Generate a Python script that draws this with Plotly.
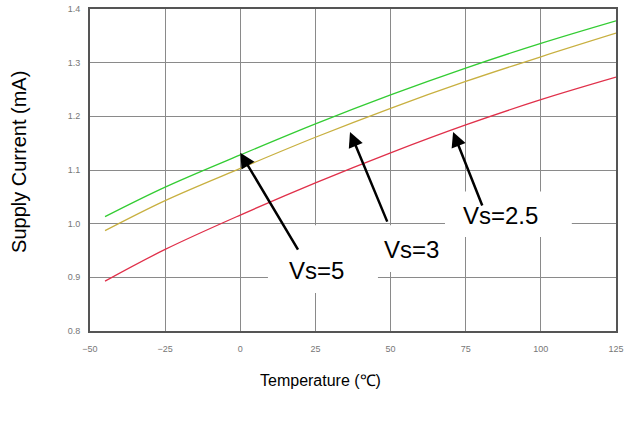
import plotly.graph_objects as go

temps = [-45, -25, 0, 25, 50, 75, 100, 125]
i_vs5 = [1.013, 1.068, 1.128, 1.186, 1.240, 1.290, 1.336, 1.378]
i_vs3 = [0.987, 1.043, 1.103, 1.161, 1.215, 1.265, 1.311, 1.355]
i_vs25 = [0.893, 0.952, 1.016, 1.076, 1.132, 1.184, 1.231, 1.273]

labels = ["Vs=5", "Vs=3", "Vs=2.5"]
label_x = [25.2, 57.1, 86.7]
label_y = [0.912, 0.951, 1.016]
arrow_head_x = [0.0, 36.5, 70.8]
arrow_head_y = [1.132, 1.171, 1.171]
arrow_tail_x = [19.5, 49.1, 80.7]
arrow_tail_y = [0.949, 1.001, 1.031]
# white boxes behind labels (x0, x1, y0, y1)
box_x0 = [9.2, 41.0, 68.1]
box_x1 = [45.8, 69.0, 110.3]
box_y0 = [0.871, 0.910, 0.975]
box_y1 = [0.997, 0.997, 1.060]

fig = go.Figure()
fig.add_trace(go.Scatter(x=temps, y=i_vs5, mode="lines", line=dict(color="#33cc33", width=1.3, shape="spline"), name="Vs=5"))
fig.add_trace(go.Scatter(x=temps, y=i_vs3, mode="lines", line=dict(color="#c8b040", width=1.3, shape="spline"), name="Vs=3"))
fig.add_trace(go.Scatter(x=temps, y=i_vs25, mode="lines", line=dict(color="#e0304a", width=1.3, shape="spline"), name="Vs=2.5"))

for x0, x1, y0, y1 in zip(box_x0, box_x1, box_y0, box_y1):
    fig.add_shape(type="rect", x0=x0, x1=x1, y0=y0, y1=y1, xref="x", yref="y",
                  fillcolor="white", line=dict(width=0), layer="above")

for t, lx, ly in zip(labels, label_x, label_y):
    fig.add_annotation(x=lx, y=ly, xref="x", yref="y", text=t, showarrow=False,
                       font=dict(family="Liberation Sans, Arial", size=24, color="black"))
for hx, hy, tx, ty in zip(arrow_head_x, arrow_head_y, arrow_tail_x, arrow_tail_y):
    fig.add_annotation(x=hx, y=hy, ax=tx, ay=ty, xref="x", yref="y", axref="x", ayref="y",
                       text="", showarrow=True, arrowhead=2, arrowsize=1.2, arrowwidth=2.5,
                       arrowcolor="black")

fig.add_annotation(x=0.439, y=-0.155, xref="paper", yref="paper", xanchor="center", yanchor="middle",
                   text="Temperature (℃)", showarrow=False,
                   font=dict(family="Liberation Sans, Arial", size=16, color="black"))
fig.add_annotation(x=-0.135, y=0.525, xref="paper", yref="paper", xanchor="center", yanchor="middle",
                   text="Supply Current (mA)", textangle=-90, showarrow=False,
                   font=dict(family="Liberation Sans, Arial", size=20, color="black"))

fig.update_layout(
    width=626, height=423,
    margin=dict(l=90, r=10, t=9, b=92),
    paper_bgcolor="white", plot_bgcolor="white",
    showlegend=False,
    xaxis=dict(range=[-50, 125], tickvals=[-50, -25, 0, 25, 50, 75, 100, 125],
               showgrid=True, gridcolor="#8a8a8a", gridwidth=1, zeroline=False,
               showline=True, linecolor="#555555", linewidth=2, mirror=True,
               ticks="", ticklabelstandoff=8, ticklabeloverflow="allow", automargin=False,
               tickfont=dict(family="Liberation Sans", size=9, color="#777777")),
    yaxis=dict(range=[0.8, 1.4], tickvals=[0.8, 0.9, 1.0, 1.1, 1.2, 1.3, 1.4], tickformat=".1f",
               showgrid=True, gridcolor="#8a8a8a", gridwidth=1, zeroline=False,
               showline=True, linecolor="#555555", linewidth=2, mirror=True,
               ticks="", ticklabelstandoff=6, ticklabeloverflow="allow", automargin=False,
               tickfont=dict(family="Liberation Sans", size=9, color="#777777")),
)

fig.write_html("out.html", config={"displayModeBar": False},
               post_script="document.body.style.margin='0px';document.body.style.overflow='hidden';")
